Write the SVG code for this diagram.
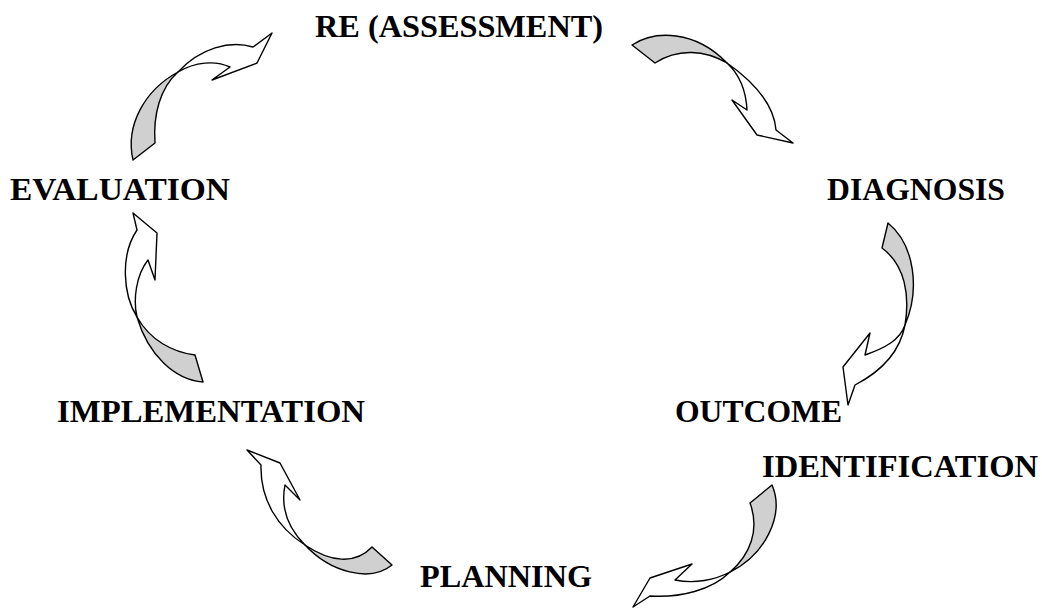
<svg xmlns="http://www.w3.org/2000/svg" width="1042" height="609" viewBox="0 0 1042 609">
<style>
text{font-family:"Liberation Serif","Times New Roman",serif;font-weight:bold;font-size:32px;fill:#000}
.g{fill:#d0d0d0;stroke:#000;stroke-width:1.4;stroke-linejoin:round}
.w{fill:#fff;stroke:#000;stroke-width:1.4;stroke-linejoin:round}
</style>
<rect width="1042" height="609" fill="#fff"/>
<g id="connectors">
<g id="arrow-re-diagnosis">
<path class="g" d="M632,45 C655,30 695,30 727,63 C705,50 678,48 655,63 Z"/>
<path class="w" d="M727,63 C754,82 774,105 776,130 L793,143 L757,135 L732,100 L747,110 C746,90 740,75 727,63 Z"/>
</g>
<g id="arrow-diagnosis-outcome">
<path class="g" d="M888,223 C915,245 920,290 905,325 C910,295 905,265 882,248 Z"/>
<path class="w" d="M905,325 C900,352 880,372 855,385 L848,405 L843,367 L870,333 L865,355 C885,348 900,340 905,325 Z"/>
</g>
<g id="arrow-outcome-planning">
<path class="g" d="M772,485 C785,515 765,555 730,572 C750,555 760,530 750,503 Z"/>
<path class="w" d="M730,572 C712,590 680,598 650,596 L633,607 L650,578 L692,564 L675,580 C695,584 715,580 730,572 Z"/>
</g>
<g id="arrow-planning-implementation">
<path class="g" d="M372,547 L392,565 C370,583 330,572 305,545 C330,562 355,565 372,547 Z"/>
<path class="w" d="M305,545 C278,528 260,500 261,465 L247,450 L280,463 L300,500 L285,485 C280,510 290,530 305,545 Z"/>
</g>
<g id="arrow-implementation-evaluation">
<path class="g" d="M195,355 L203,382 C175,380 148,355 137,317 C150,340 172,352 195,355 Z"/>
<path class="w" d="M137,317 C123,295 120,255 137,230 L133,213 L157,233 L155,280 L148,260 C136,275 133,300 137,317 Z"/>
</g>
<g id="arrow-evaluation-re">
<path class="g" d="M133,160 C125,125 145,90 178,72 C160,88 153,115 155,143 Z"/>
<path class="w" d="M178,72 C200,48 230,40 253,47 L272,33 L257,63 L212,80 L230,67 C215,60 195,62 178,72 Z"/>
</g>
</g>
<g id="node-re"><text x="315" y="37" textLength="288" lengthAdjust="spacingAndGlyphs">RE (ASSESSMENT)</text></g>
<g id="node-diagnosis"><text x="827" y="200" textLength="178" lengthAdjust="spacingAndGlyphs">DIAGNOSIS</text></g>
<g id="node-outcome"><text x="675" y="422" textLength="167" lengthAdjust="spacingAndGlyphs">OUTCOME</text><text x="762" y="477" textLength="276" lengthAdjust="spacingAndGlyphs">IDENTIFICATION</text></g>
<g id="node-planning"><text x="420" y="587" textLength="172" lengthAdjust="spacingAndGlyphs">PLANNING</text></g>
<g id="node-implementation"><text x="57" y="422" textLength="308" lengthAdjust="spacingAndGlyphs">IMPLEMENTATION</text></g>
<g id="node-evaluation"><text x="10" y="200" textLength="220" lengthAdjust="spacingAndGlyphs">EVALUATION</text></g>
</svg>
